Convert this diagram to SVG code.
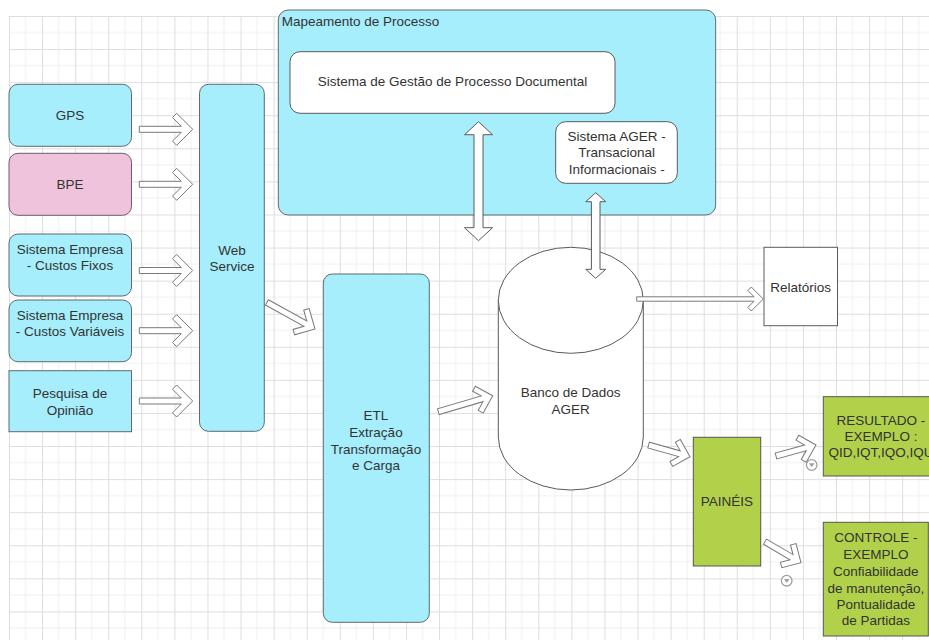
<svg xmlns="http://www.w3.org/2000/svg" width="929" height="640" viewBox="0 0 929 640">
<defs>
<pattern id="grid" patternUnits="userSpaceOnUse" x="9" y="16" width="33.08" height="33.08">
<rect width="33.08" height="33.08" fill="#ffffff"/>
<line x1="16.54" y1="0" x2="16.54" y2="33.08" stroke="#f0f0f0" stroke-width="1"/>
<line x1="0" y1="16.54" x2="33.08" y2="16.54" stroke="#f0f0f0" stroke-width="1"/>
<line x1="0.5" y1="0" x2="0.5" y2="33.08" stroke="#dedede" stroke-width="1"/>
<line x1="0" y1="0.5" x2="33.08" y2="0.5" stroke="#dedede" stroke-width="1"/>
</pattern>
</defs>
<style>
.t{font-family:"Liberation Sans",Arial,sans-serif;font-size:13.5px;fill:#333333;text-anchor:middle;dominant-baseline:central}
.cyan{fill:#a6eefb;stroke:#5f6b6e;stroke-width:1}
.pink{fill:#f0c3dd;stroke:#6b5f66;stroke-width:1}
.green{fill:#b2d14b;stroke:#555555;stroke-width:1}
.white{fill:#ffffff;stroke:#5a5a5a;stroke-width:1}
.arr{fill:#ffffff;stroke:#7a7a7a;stroke-width:1;stroke-linejoin:miter}
.darr{fill:#ffffff;stroke:#5a5a5a;stroke-width:1}
.ico{fill:#ffffff;stroke:#a0a0a0;stroke-width:1.3}
</style>
<rect x="0" y="0" width="929" height="640" fill="#ffffff"/>
<rect x="9" y="16" width="920" height="624" fill="url(#grid)"/>

<g id="mapeamento">
<rect class="cyan" x="278.3" y="10" width="437.4" height="205" rx="10"/>
<text class="t" x="281.7" y="21" style="text-anchor:start">Mapeamento de Processo</text>
</g>
<g id="gestao">
<rect class="white" x="290" y="51.7" width="325" height="61.6" rx="10"/>
<text class="t" x="452.5" y="81.7">Sistema de Gestão de Processo Documental</text>
</g>
<g id="ager">
<rect class="white" x="555.7" y="121.7" width="121.6" height="61.6" rx="10"/>
<text class="t" x="616.7" y="136">Sistema AGER -</text>
<text class="t" x="616.7" y="152.7">Transacional</text>
<text class="t" x="616.7" y="169">Informacionais -</text>
</g>
<g id="gps">
<rect class="cyan" x="9" y="84.3" width="122.5" height="62" rx="9"/>
<text class="t" x="70" y="115.3">GPS</text>
</g>
<g id="bpe">
<rect class="pink" x="9" y="153.3" width="122.5" height="62" rx="9"/>
<text class="t" x="70" y="184.3">BPE</text>
</g>
<g id="custos-fixos">
<rect class="cyan" x="9" y="234" width="122.5" height="62" rx="9"/>
<text class="t" x="70" y="249.3">Sistema Empresa</text>
<text class="t" x="70" y="265.3">- Custos Fixos</text>
</g>
<g id="custos-variaveis">
<rect class="cyan" x="9" y="300" width="122.5" height="61.7" rx="9"/>
<text class="t" x="70" y="315.3">Sistema Empresa</text>
<text class="t" x="70" y="331.3">- Custos Variáveis</text>
</g>
<g id="pesquisa">
<rect class="cyan" x="9" y="370.7" width="122.5" height="61" rx="0"/>
<text class="t" x="70" y="393.3">Pesquisa de</text>
<text class="t" x="70" y="410">Opinião</text>
</g>
<g id="webservice">
<rect class="cyan" x="199.5" y="84.3" width="64.8" height="347" rx="9"/>
<text class="t" x="232" y="250">Web</text>
<text class="t" x="232" y="266.7">Service</text>
</g>
<g id="etl">
<rect class="cyan" x="323.3" y="274" width="106" height="348.3" rx="9"/>
<text class="t" x="376" y="415.7">ETL</text>
<text class="t" x="376" y="432.3">Extração</text>
<text class="t" x="376" y="449">Transformação</text>
<text class="t" x="376" y="465.3">e Carga</text>
</g>
<g id="banco">
<path class="white" d="M498.3,300 L498.3,437 A72.5,53 0 0 0 643.3,437 L643.3,300"/>
<ellipse class="white" cx="570.8" cy="300.3" rx="72.5" ry="53"/>
<text class="t" x="570.7" y="392.7">Banco de Dados</text>
<text class="t" x="570.7" y="409.3">AGER</text>
</g>
<g id="relatorios">
<rect class="white" x="764" y="247.3" width="73.5" height="78.4"/>
<text class="t" x="800.7" y="287.3">Relatórios</text>
</g>
<g id="paineis">
<rect class="green" x="693.3" y="437.3" width="67.4" height="128.7"/>
<text class="t" x="727" y="501.7">PAINÉIS</text>
</g>
<g id="resultado">
<rect class="green" x="823.3" y="396.7" width="116" height="79.3"/>
<text class="t" x="881" y="420">RESULTADO -</text>
<text class="t" x="881" y="436.7">EXEMPLO :</text>
<text class="t" x="881" y="452.7">QID,IQT,IQO,IQU</text>
</g>
<g id="controle">
<rect class="green" x="823.3" y="522.3" width="105" height="113.7"/>
<text class="t" x="875.8" y="537.3">CONTROLE -</text>
<text class="t" x="875.8" y="554">EXEMPLO</text>
<text class="t" x="875.8" y="571.3">Confiabilidade</text>
<text class="t" x="875.8" y="588">de manutenção,</text>
<text class="t" x="875.8" y="604.3">Pontualidade</text>
<text class="t" x="875.8" y="620.7">de Partidas</text>
</g>

<g id="connectors">
<path class="arr" transform="translate(192.7,129.3)" d="M0,0 L-16,-16 L-20.2,-11.8 L-11.4,-3 L-53.4,-3 L-53.4,3 L-11.4,3 L-20.2,11.8 L-16,16 Z"/>
<path class="arr" transform="translate(192.7,184.3)" d="M0,0 L-16,-16 L-20.2,-11.8 L-11.4,-3 L-53.4,-3 L-53.4,3 L-11.4,3 L-20.2,11.8 L-16,16 Z"/>
<path class="arr" transform="translate(192.7,270.5)" d="M0,0 L-16,-16 L-20.2,-11.8 L-11.4,-3 L-53.4,-3 L-53.4,3 L-11.4,3 L-20.2,11.8 L-16,16 Z"/>
<path class="arr" transform="translate(192.7,330.7)" d="M0,0 L-16,-16 L-20.2,-11.8 L-11.4,-3 L-53.4,-3 L-53.4,3 L-11.4,3 L-20.2,11.8 L-16,16 Z"/>
<path class="arr" transform="translate(192.7,401)" d="M0,0 L-16,-16 L-20.2,-11.8 L-11.4,-3 L-53.4,-3 L-53.4,3 L-11.4,3 L-20.2,11.8 L-16,16 Z"/>
<path class="arr" transform="translate(315,329) rotate(29)" d="M0,0 L-15,-15 L-19,-11 L-11,-3 L-55,-3 L-55,3 L-11,3 L-19,11 L-15,15 Z"/>
<path class="arr" transform="translate(492.7,395.7) rotate(-16.4)" d="M0,0 L-14,-14 L-18,-10 L-11,-3 L-56.7,-3 L-56.7,3 L-11,3 L-18,10 L-14,14 Z"/>
<path class="arr" transform="translate(690,456.7) rotate(15.7)" d="M0,0 L-14,-14 L-18,-10 L-11,-3 L-43,-3 L-43,3 L-11,3 L-18,10 L-14,14 Z"/>
<path class="arr" transform="translate(816,445) rotate(-15.4)" d="M0,0 L-14,-14 L-18,-10 L-11,-3 L-41.5,-3 L-41.5,3 L-11,3 L-18,10 L-14,14 Z"/>
<path class="arr" transform="translate(801,562.7) rotate(30.3)" d="M0,0 L-14,-14 L-18,-10 L-11,-3 L-41.7,-3 L-41.7,3 L-11,3 L-18,10 L-14,14 Z"/>
<path class="arr" transform="translate(763.3,299)" d="M0,0 L-12,-12 L-15.5,-8.5 L-9.2,-2.2 L-126.6,-2.2 L-126.6,2.2 L-9.2,2.2 L-15.5,8.5 L-12,12 Z"/>
<path class="darr" d="M478.5,121.7 L492.5,134.7 L483,134.7 L483,227.7 L492.5,227.7 L478.5,240.7 L464.5,227.7 L474,227.7 L474,134.7 L464.5,134.7 Z"/>
<path class="darr" d="M595.7,192.7 L605.7,201.7 L600,201.7 L600,269.3 L605.7,269.3 L595.7,278.3 L585.7,269.3 L591.4,269.3 L591.4,201.7 L585.7,201.7 Z"/>
</g>

<g id="icons">
<circle class="ico" cx="811.7" cy="465" r="5.3"/>
<path d="M808.9,463.3 L814.5,463.3 L811.7,467.3 Z" fill="#a0a0a0"/>
<circle class="ico" cx="786.7" cy="580.7" r="5.3"/>
<path d="M783.9,579 L789.5,579 L786.7,583 Z" fill="#a0a0a0"/>
</g>
</svg>
